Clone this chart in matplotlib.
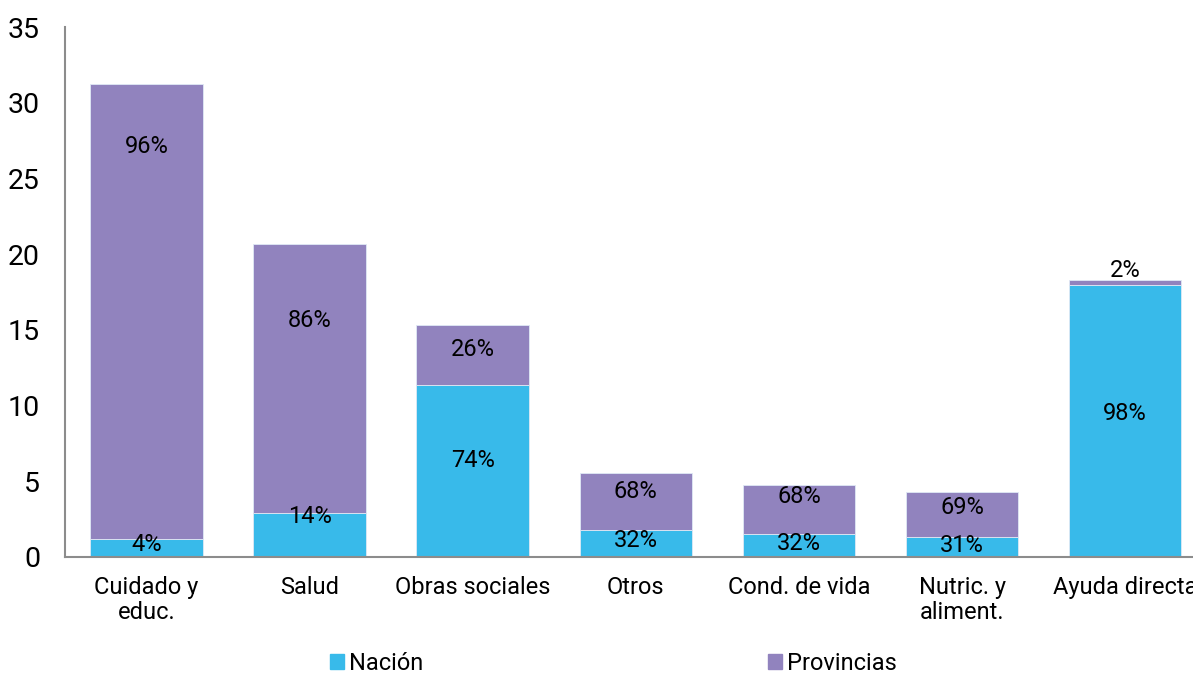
import matplotlib.pyplot as plt
from matplotlib.patches import Patch

plt.rcParams['font.family'] = ['Roboto', 'DejaVu Sans']

# gasto por categoria, separado en Nacion y Provincias
categorias = ['Cuidado y\neduc.', 'Salud', 'Obras sociales', 'Otros',
              'Cond. de vida', 'Nutric. y\naliment.', 'Ayuda directa']
nacion = [1.2, 2.9, 11.35, 1.78, 1.52, 1.32, 17.95]
provincias = [30.05, 17.8, 4.0, 3.75, 3.23, 2.95, 0.35]
pct_nacion = ['4%', '14%', '74%', '32%', '32%', '31%', '98%']
pct_provincias = ['96%', '86%', '26%', '68%', '68%', '69%', '2%']

# alturas de las etiquetas (como en el original, no siempre centradas)
y_lab_nacion = [0.8, 2.7, 6.4, 1.1, 0.86, 0.73, 9.5]
y_lab_prov = [27.1, 15.6, 13.7, 4.3, 4.0, 3.3, 18.9]

col_nacion = '#38BAEA'
col_prov = '#9183BE'

fig = plt.figure(figsize=(11.93, 6.77), dpi=100)
ax = fig.add_axes([0.0545, 0.1773, 0.957, 0.7827])

x = range(len(categorias))
ax.bar(x, nacion, width=0.69, color=col_nacion, edgecolor='#dfe9f5', linewidth=0.6)
ax.bar(x, provincias, width=0.69, bottom=nacion, color=col_prov,
       edgecolor='#dfe9f5', linewidth=0.6)

for i in x:
    ax.text(i, y_lab_nacion[i], pct_nacion[i], ha='center', va='center', fontsize=17)
    ax.text(i, y_lab_prov[i], pct_provincias[i], ha='center', va='center', fontsize=17)

ax.set_xlim(-0.5, 6.5)
ax.set_ylim(0, 35)
ax.set_yticks(range(0, 36, 5))
ax.set_xticks(list(x))
ax.set_xticklabels(categorias, fontsize=17, linespacing=1.1)
ax.tick_params(axis='y', length=0, pad=18, labelsize=20.5)
ax.tick_params(axis='x', length=0, pad=14)

for s in ['top', 'right']:
    ax.spines[s].set_visible(False)
for s in ['left', 'bottom']:
    ax.spines[s].set_color('#8c8c8c')
    ax.spines[s].set_linewidth(1.5)

handles = [Patch(color=col_nacion, label='Nación'),
           Patch(color=col_prov, label='Provincias')]
fig.legend(handles=handles, loc='center', bbox_to_anchor=(0.514, 0.02), ncol=2,
           frameon=False, fontsize=17, handlelength=0.6, handleheight=0.6,
           handletextpad=0.2, columnspacing=14.6, borderpad=0.2)

fig.savefig('out.png', dpi=100)
